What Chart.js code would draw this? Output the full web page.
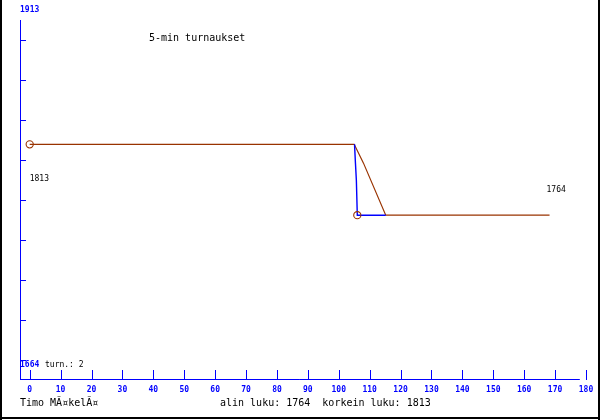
<!DOCTYPE html>
<html><head><meta charset="utf-8">
<script src="https://cdn.jsdelivr.net/npm/chart.js@4/dist/chart.umd.min.js"></script>
<style>html,body{margin:0;padding:0;background:#fff}#wrap{width:600px;height:420px;position:relative}</style>
</head><body><div id="wrap"><canvas id="c" width="600" height="420"></canvas></div>
<script>
// ---- data ----
const titleText = '5-min turnaukset';
const authorText = 'Timo MÃ¤kelÃ¤';
const summaryText = 'alin luku: 1764  korkein luku: 1813';
const turnText = 'turn.: 2';
const xTickValues = [0,10,20,30,40,50,60,70,80,90,100,110,120,130,140,150,160,170,180];
const yTopLabel = '1913';
const yBottomLabel = '1664';
// 5-minute line (brown)
const fiveMinX = [0, 105, 108, 115.2, 168.2];
const fiveMinY = [1813, 1813, 1800, 1764, 1764];
// trades line (blue)
const tradeX = [105.1, 105.4, 105.7, 106, 115.2];
const tradeY = [1813, 1800, 1788, 1764, 1764];
// circle markers
const markerX = [0, 106];
const markerY = [1813, 1764];
// value labels (start / end values)
const valueLabelText = ['1813', '1764'];

const BLUE = '#0000ff', BROWN = '#993300';
const MONO = '"DejaVu Sans Mono", "Liberation Mono", monospace';

const decor = {
  id: 'decor',
  afterDraw(chart) {
    const ctx = chart.ctx, a = chart.chartArea;
    const xs = chart.scales.x, ys = chart.scales.y;
    ctx.save();
    // outer frame (left, right, bottom)
    ctx.fillStyle = '#000';
    ctx.fillRect(0, 0, 2, 420);
    ctx.fillRect(598, 0, 2, 420);
    ctx.fillRect(0, 417, 600, 2);
    // axes
    ctx.strokeStyle = BLUE; ctx.lineWidth = 1;
    ctx.beginPath();
    ctx.moveTo(a.left + 0.5, a.top); ctx.lineTo(a.left + 0.5, a.bottom);
    ctx.moveTo(a.left, a.bottom - 0.5); ctx.lineTo(xs.getPixelForValue(178), a.bottom - 0.5);
    // x tick marks (inward)
    xs.ticks.forEach(t => {
      const p = Math.round(xs.getPixelForValue(t.value)) + 0.5;
      ctx.moveTo(p, a.bottom - 10); ctx.lineTo(p, a.bottom);
    });
    // y tick marks (inward)
    ys.ticks.forEach(t => {
      const p = Math.round(ys.getPixelForValue(t.value)) + 0.5;
      ctx.moveTo(a.left, p); ctx.lineTo(a.left + 6, p);
    });
    ctx.stroke();
    // y end labels
    ctx.textBaseline = 'alphabetic'; ctx.textAlign = 'left';
    ctx.fillStyle = BLUE; ctx.font = 'bold 8px ' + MONO;
    ctx.fillText(yTopLabel, a.left, a.top - 8);
    ctx.fillText(yBottomLabel, a.left, a.bottom - 13);
    ctx.fillStyle = '#000'; ctx.font = '8px ' + MONO;
    ctx.fillText(turnText, a.left + 25, a.bottom - 13);
    // value labels
    const d = chart.data.datasets[0].data;
    ctx.fillText(valueLabelText[0], xs.getPixelForValue(d[0].x), ys.getPixelForValue(d[0].y) + 37);
    const last = d[d.length - 1];
    ctx.fillText(valueLabelText[1], xs.getPixelForValue(last.x) - 3, ys.getPixelForValue(last.y) - 23);
    // title and footer
    ctx.font = '10px ' + MONO;
    ctx.fillText(titleText, 149, 41);
    ctx.fillText(authorText, 20, 406);
    ctx.fillText(summaryText, 220, 406);
    ctx.restore();
  }
};

new Chart(document.getElementById('c').getContext('2d'), {
  type: 'scatter',
  data: {
    datasets: [
      { label: '5-min', data: fiveMinX.map((x, i) => ({x, y: fiveMinY[i]})), showLine: true,
        borderColor: BROWN, borderWidth: 1.2, pointRadius: 0, order: 2 },
      { label: 'kaupat', data: tradeX.map((x, i) => ({x, y: tradeY[i]})), showLine: true,
        borderColor: BLUE, borderWidth: 1.4, pointRadius: 0, order: 1 },
      { label: 'merkit', data: markerX.map((x, i) => ({x, y: markerY[i]})), showLine: false,
        pointRadius: 3.6, borderColor: BROWN, borderWidth: 1.1, backgroundColor: 'rgba(0,0,0,0)', order: 0 }
    ]
  },
  options: {
    responsive: false, animation: false, devicePixelRatio: 1,
    layout: { padding: { left: 20, top: 20, right: 14, bottom: 0 } },
    plugins: { legend: { display: false }, tooltip: { enabled: false }, title: { display: false } },
    scales: {
      x: {
        type: 'linear', min: -3.14, max: 180,
        afterBuildTicks: s => { s.ticks = xTickValues.map(v => ({ value: v })); },
        afterFit: s => { s.height = 40; },
        grid: { display: false, drawTicks: false, tickLength: 0 }, border: { display: false },
        ticks: { color: BLUE, font: { family: MONO, size: 8, weight: 'bold' }, padding: 5,
                 maxRotation: 0, autoSkip: false }
      },
      y: {
        type: 'linear', min: 1650, max: 1899,
        afterBuildTicks: s => {
          const lo = Number(yBottomLabel), hi = Number(yTopLabel), st = (hi - lo) / 9;
          s.ticks = Array.from({length: 9}, (_, i) => ({ value: lo + i * st }));
        },
        afterFit: s => { s.width = 0; },
        grid: { display: false, drawTicks: false }, border: { display: false },
        ticks: { display: false }
      }
    }
  },
  plugins: [decor]
});
</script>
</body></html>
